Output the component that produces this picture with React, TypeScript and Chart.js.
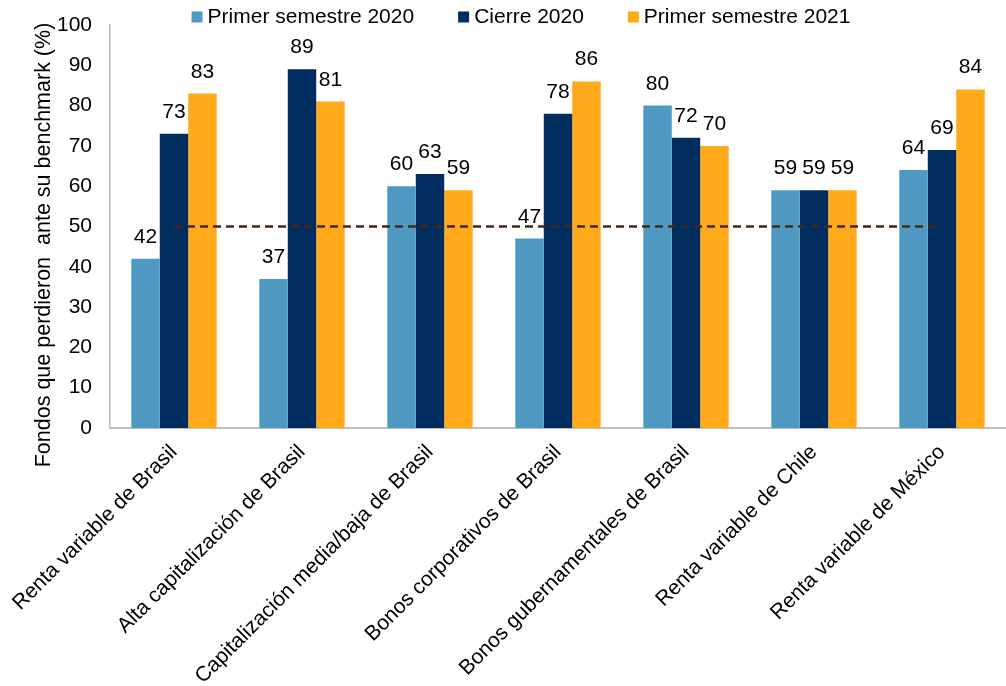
import React, { useEffect, useRef } from "react";
import { Chart, registerables } from "chart.js";

Chart.register(...registerables);

const categories = [
  "Renta variable de Brasil",
  "Alta capitalización de Brasil",
  "Capitalización media/baja de Brasil",
  "Bonos corporativos de Brasil",
  "Bonos gubernamentales de Brasil",
  "Renta variable de Chile",
  "Renta variable de México",
];

const seriesNames = ["Primer semestre 2020", "Cierre 2020", "Primer semestre 2021"];
const primerSemestre2020 = [42, 37, 60, 47, 80, 59, 64];
const cierre2020 = [73, 89, 63, 78, 72, 59, 69];
const primerSemestre2021 = [83, 81, 59, 86, 70, 59, 84];
const referenceLine = [50, 50, 50, 50, 50, 50, 50];

const yMin = 0;
const yMax = 100;
const yStep = 10;
const yTitle = "Fondos que perdieron  ante su benchmark (%)";

const COLORS = ["#4E9AC3", "#002D5E", "#FFAA1A"];
const FONT = "'Liberation Sans', Arial, sans-serif";
const FONT_SIZE = 21;

// Value labels above each bar
const valueLabels = {
  id: "valueLabels",
  afterDatasetsDraw(chart: any) {
    const ctx = chart.ctx;
    ctx.save();
    ctx.font = `${FONT_SIZE}px ${FONT}`;
    ctx.fillStyle = "#000";
    ctx.textAlign = "center";
    ctx.textBaseline = "alphabetic";
    chart.data.datasets.forEach((ds: any, i: number) => {
      if (ds.type === "line") return;
      const meta = chart.getDatasetMeta(i);
      meta.data.forEach((bar: any, j: number) => {
        ctx.fillText(String(ds.data[j]), bar.x, bar.y - 16);
      });
    });
    ctx.restore();
  },
};

// Rotated y-axis title and the legend row across the top
const decorations = {
  id: "decorations",
  afterDraw(chart: any) {
    const ctx = chart.ctx;
    ctx.save();
    ctx.fillStyle = "#000";

    ctx.save();
    ctx.font = `21.5px ${FONT}`;
    ctx.translate(44, 245);
    ctx.rotate(-Math.PI / 2);
    ctx.textAlign = "center";
    ctx.textBaseline = "middle";
    ctx.fillText(yTitle, 0, 0);
    ctx.restore();

    ctx.font = `${FONT_SIZE}px ${FONT}`;
    const box = 11;
    const boxGap = 5;
    const itemGap = 44;
    const bars = chart.data.datasets.filter((d: any) => d.type !== "line");
    const widths = bars.map((d: any) => ctx.measureText(d.label).width);
    const total =
      widths.reduce((a: number, b: number) => a + b, 0) +
      bars.length * (box + boxGap) +
      (bars.length - 1) * itemGap;
    let x = 521 - total / 2;
    const cy = 17;
    ctx.textAlign = "left";
    ctx.textBaseline = "middle";
    bars.forEach((d: any, i: number) => {
      ctx.fillStyle = d.backgroundColor;
      ctx.fillRect(x, cy - box / 2, box, box);
      x += box + boxGap;
      ctx.fillStyle = "#000";
      ctx.fillText(d.label, x, cy);
      x += widths[i] + itemGap;
    });
    ctx.restore();
  },
};

function clearScalePadding(scale: any) {
  scale.paddingLeft = 0;
  scale.paddingRight = 0;
  scale.paddingTop = 0;
  scale.paddingBottom = 0;
}

export default function App() {
  const canvasRef = useRef<HTMLCanvasElement | null>(null);

  useEffect(() => {
    if (!canvasRef.current) return;
    const chart = new Chart(canvasRef.current, {
      type: "bar",
      data: {
        labels: categories,
        datasets: [
          {
            type: "line",
            label: "Referencia",
            data: referenceLine,
            borderColor: "#45281A",
            borderWidth: 2.5,
            borderDash: [8, 5],
            pointRadius: 0,
            fill: false,
            order: 0,
          } as any,
          {
            label: seriesNames[0],
            data: primerSemestre2020,
            backgroundColor: COLORS[0],
            order: 1,
          },
          {
            label: seriesNames[1],
            data: cierre2020,
            backgroundColor: COLORS[1],
            order: 1,
          },
          {
            label: seriesNames[2],
            data: primerSemestre2021,
            backgroundColor: COLORS[2],
            order: 1,
          },
        ],
      },
      options: {
        responsive: false,
        animation: false,
        devicePixelRatio: 1,
        layout: {
          autoPadding: false,
          padding: { top: 25, left: 0, right: 0, bottom: 0 },
        },
        datasets: {
          bar: { categoryPercentage: 0.667, barPercentage: 1.0 },
        },
        plugins: {
          legend: { display: false },
          tooltip: { enabled: false },
        },
        scales: {
          x: {
            grid: { display: false, drawTicks: false },
            border: { display: true, color: "#BDBDBD", width: 2 },
            ticks: {
              color: "#000",
              font: { family: FONT, size: FONT_SIZE },
              maxRotation: 45,
              minRotation: 45,
              autoSkip: false,
              padding: 12,
            },
            afterFit(scale: any) {
              scale.height = 258;
              clearScalePadding(scale);
            },
          },
          y: {
            min: yMin,
            max: yMax,
            grid: { display: false, drawTicks: false },
            border: { display: true, color: "#BDBDBD", width: 1.5 },
            ticks: {
              stepSize: yStep,
              color: "#000",
              font: { family: FONT, size: FONT_SIZE },
              padding: 18,
            },
            afterFit(scale: any) {
              scale.width = 110;
              clearScalePadding(scale);
            },
          },
        },
      },
      plugins: [valueLabels, decorations],
    });
    return () => chart.destroy();
  }, []);

  return (
    <div style={{ position: "absolute", left: 0, top: 0, width: 1006, height: 686 }}>
      <canvas ref={canvasRef} width={1006} height={686} />
    </div>
  );
}
